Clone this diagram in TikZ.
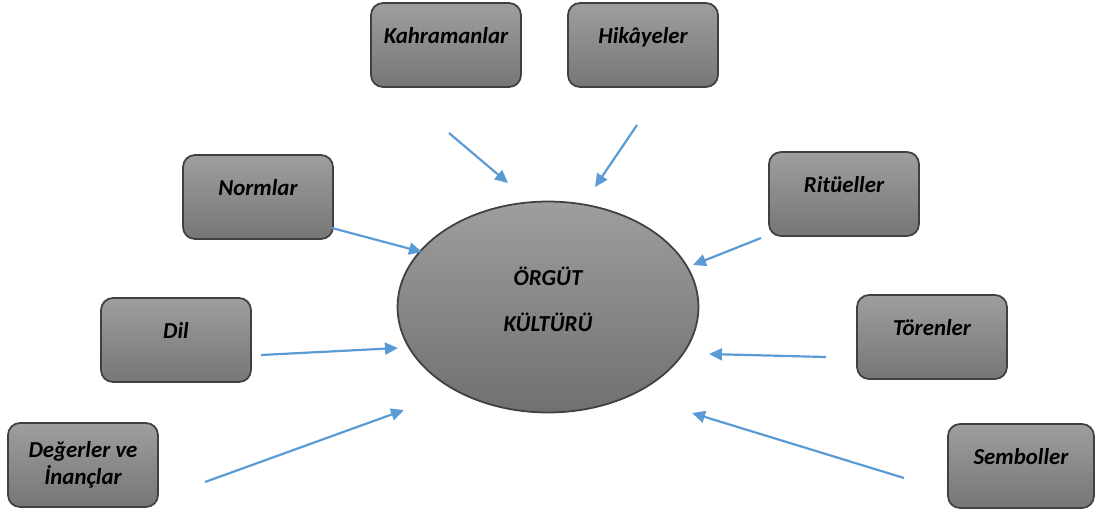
\documentclass[tikz,border=0pt]{standalone}
\usepackage{fontspec}
\setmainfont{Carlito}
\usetikzlibrary{shapes.geometric,arrows.meta}
\definecolor{okmavi}{RGB}{91,155,213}
\definecolor{kenar}{RGB}{64,64,64}
\definecolor{griust}{RGB}{158,158,158}
\definecolor{grialt}{RGB}{118,118,118}

\tikzset{
    yazi/.style={font=\fontsize{13}{15.5}\selectfont\bfseries\itshape},
    kutu/.style={draw=kenar, line width=1pt, rounded corners=0.24cm,
        top color=griust, bottom color=grialt,
        minimum width=3cm, minimum height=1.68cm, inner xsep=0pt, inner ysep=0pt,
        text height=0.81cm, text depth=0.87cm, align=center, yazi},
    ok/.style={okmavi, line width=1.25pt, -{Triangle[length=2.6mm,width=2.4mm]}}
}

\begin{document}
\begin{tikzpicture}[x=0.02cm, y=-0.02cm]
    \useasboundingbox (0,0) rectangle (1095,515);
    % merkez
    \node[ellipse, draw=kenar, line width=1pt, top color=griust, bottom color=grialt!95!black,
        minimum width=6.02cm, minimum height=4.22cm] (kultur) at (548,307) {};
    \node[yazi, align=center] (kulturyazi) at (548,299) {\"ORG\"UT\\[0.38cm]K\"ULT\"UR\"U};
    % kutular
    \node[kutu] (kahraman) at (446,45) {Kahramanlar};
    \node[kutu] (hikaye) at (643,45) {Hik\^ayeler};
    \node[kutu] (norm) at (258,197) {Normlar};
    \node[kutu] (ritu) at (844,194) {Rit\"ueller};
    \node[kutu] (dil) at (176,340) {Dil};
    \node[kutu] (toren) at (932,337) {T\"orenler};
    \node[kutu, text height=, text depth=] (deger) at (83,465) {De\u{g}erler ve\\\.{I}nan\c{c}lar};
    \node[kutu, minimum width=2.92cm] (sembol) at (1021,466) {Semboller};
    % oklar
    \coordinate (k1) at (449,133); \coordinate (k2) at (508,183);
    \coordinate (h1) at (637,125); \coordinate (h2) at (595,187);
    \coordinate (n1) at (332,228); \coordinate (n2) at (422,252);
    \coordinate (r1) at (761,238); \coordinate (r2) at (693,265);
    \coordinate (d1) at (261,355); \coordinate (d2) at (398,348);
    \coordinate (t1) at (826,357); \coordinate (t2) at (709,354);
    \coordinate (e1) at (205,482); \coordinate (e2) at (404,410);
    \coordinate (s1) at (904,478); \coordinate (s2) at (692,413);
    \draw[ok] (k1) -- (k2);
    \draw[ok] (h1) -- (h2);
    \draw[ok] (n1) -- (n2);
    \draw[ok] (r1) -- (r2);
    \draw[ok] (d1) -- (d2);
    \draw[ok] (t1) -- (t2);
    \draw[ok] (e1) -- (e2);
    \draw[ok] (s1) -- (s2);
\end{tikzpicture}
\end{document}
